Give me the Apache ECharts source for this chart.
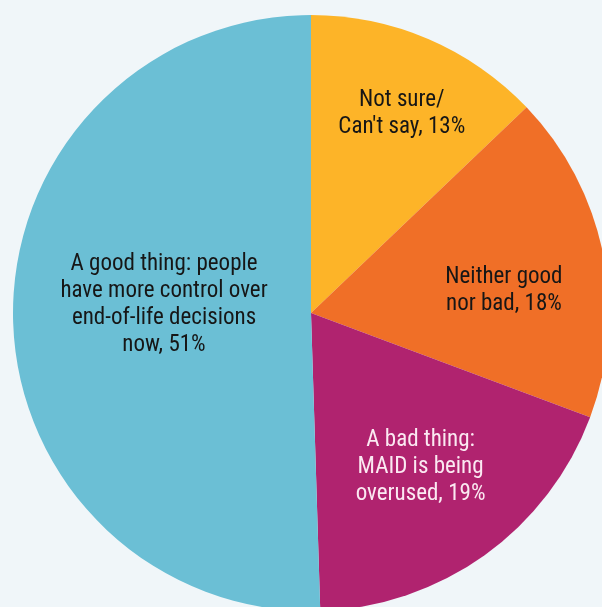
<!DOCTYPE html>
<html>
<head>
<meta charset="utf-8">
<script src="https://cdn.jsdelivr.net/npm/echarts@6/dist/echarts.min.js"></script>
<style>
  html, body { margin: 0; padding: 0; background: #f0f6f9; }
  #chart { width: 602px; height: 607px; }
</style>
</head>
<body>
<div id="chart"></div>
<script>
// answers, in clockwise order from 12 o'clock
const labels = [
  'Not sure/\nCan\'t say',
  'Neither good\nnor bad',
  'A bad thing:\nMAID is being\noverused',
  'A good thing: people\nhave more control over\nend-of-life decisions\nnow'
]
const values = [13, 18, 19, 51]
const colors = ['#fdb428', '#f06f27', '#b0236f', '#6bbfd5']
const textColors = ['#161616', '#161616', '#fbe9f2', '#161616']
// nudge each label away from the default half-radius spot
const labelOffsets = [[31, -60], [44, 8], [21, 31], [5, -11]]

const chart = echarts.init(document.getElementById('chart'), null, { renderer: 'canvas' })

chart.setOption({
  backgroundColor: '#f0f6f9',
  animation: false,
  series: [
    {
      type: 'pie',
      center: [311, 313],
      radius: [0, 298],
      startAngle: 90,
      clockwise: true,
      avoidLabelOverlap: false,
      emphasis: { disabled: true },
      labelLine: { show: false },
      label: {
        show: true,
        position: 'inside',
        fontFamily: '"Roboto Condensed", "Liberation Sans Narrow", "DejaVu Sans Condensed", sans-serif',
        fontSize: 23,
        lineHeight: 27,
        align: 'center',
        formatter: (p) => p.name + ', ' + p.value + '%'
      },
      data: values.map((v, i) => ({
        name: labels[i],
        value: v,
        itemStyle: { color: colors[i] },
        label: { color: textColors[i], offset: labelOffsets[i] }
      }))
    }
  ]
})
</script>
</body>
</html>
